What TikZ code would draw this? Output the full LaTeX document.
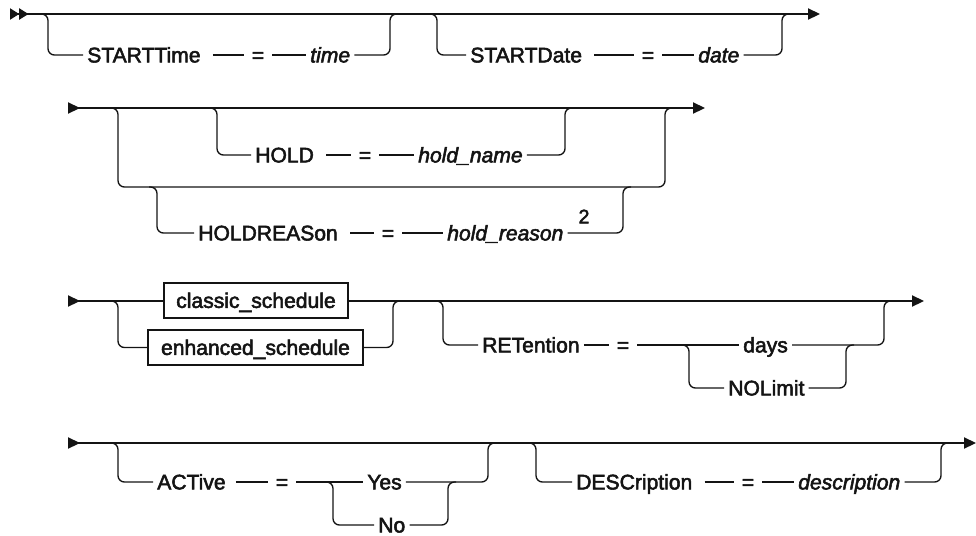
\documentclass[tikz,border=0pt]{standalone}
\usepackage{fontspec}
\setmainfont{Liberation Sans}
\newfontfamily\railfont{Liberation Sans}[BoldFont=Liberation Sans,
  BoldFeatures={FakeBold=2.5},BoldItalicFont=Liberation Sans Italic,
  BoldItalicFeatures={FakeBold=2.5}]
\usetikzlibrary{arrows.meta,positioning}
\definecolor{ink}{RGB}{20,20,20}
\tikzset{
  rail/.style={draw=ink,line width=0.95pt,rounded corners=0.16cm},
  mainline/.style={rail,{Triangle[reversed,length=0.3cm,width=0.28cm]}-{Triangle[length=0.3cm,width=0.28cm]}},
  kw/.style={inner sep=0.1cm,text height=10.5pt,text depth=0pt,
    font=\railfont\bfseries\fontsize{15}{17}\selectfont,text=ink},
  var/.style={kw,font=\railfont\bfseries\itshape\fontsize{15}{17}\selectfont},
  eqs/.style={kw,inner xsep=0.2cm},
  frag/.style={kw,draw=ink,fill=white,line width=0.95pt,
    minimum height=0.875cm,minimum width=#1},
  note/.style={kw,font=\railfont\bfseries\fontsize{14}{16}\selectfont},
}

\begin{document}
\begin{tikzpicture}[x=0.025cm,y=-0.025cm]
  \useasboundingbox (0,0) rectangle (976,535);
  % main lines
  \coordinate (s1) at (10,14);
  \coordinate (e1) at (820,14);
  \draw[rail,{Triangle[reversed,length=0.23cm,width=0.28cm]Triangle[reversed,length=0.23cm,width=0.28cm]}-{Triangle[length=0.3cm,width=0.28cm]}] (s1) -- (e1);
  \foreach \n/\y/\e in {2/108/705,3/301/924,4/443/976}{
    \coordinate (s\n) at (68,\y);
    \coordinate (e\n) at (\e,\y);
    \draw[mainline] (s\n) -- (e\n);
  }

  % row 1: STARTTime, STARTDate
  \coordinate (tb1) at (48,14);  \coordinate (tb2) at (390,14);
  \coordinate (db1) at (437,14); \coordinate (db2) at (782,14);
  \node[kw,anchor=west] (sttime) at (83,55) {STARTTime};
  \node[eqs] (eq1) at (258,55) {=};
  \node[var,anchor=west] (time) at (306,55) {time};
  \node[kw,anchor=west] (stdate) at (466,55) {STARTDate};
  \node[eqs] (eq2) at (648,55) {=};
  \node[var,anchor=west] (date) at (694,55) {date};
  \draw[rail] (tb1) ++(-8,0) -- (tb1) |- (sttime.west);
  \draw[rail] ([xshift=0.2cm]sttime.east) -- (eq1.west) (eq1.east) -- (time.west);
  \draw[rail] (time.east) -| (tb2) -- ++(8,0);
  \draw[rail] (db1) ++(-8,0) -- (db1) |- (stdate.west);
  \draw[rail] ([xshift=0.2cm]stdate.east) -- (eq2.west) (eq2.east) -- (date.west);
  \draw[rail] (date.east) -| (db2) -- ++(8,0);

  % row 2: HOLD, HOLDREASon
  \coordinate (ob1) at (118,108); \coordinate (ob2) at (665,108);
  \coordinate (ld1) at (118,187); \coordinate (ld2) at (665,187);
  \draw[rail] (ob1) ++(-8,0) -- (ob1) -- (ld1) -- (ld2) -- (ob2) -- ++(8,0);
  \coordinate (hb1) at (217,108); \coordinate (hb2) at (565,108);
  \node[kw,anchor=west] (hold) at (251,155) {HOLD};
  \node[eqs] (eq3) at (365,155) {=};
  \node[var,anchor=west] (hname) at (414,155) {hold\_name};
  \draw[rail] (hb1) ++(-8,0) -- (hb1) |- (hold.west);
  \draw[rail] ([xshift=0.2cm]hold.east) -- (eq3.west) (eq3.east) -- (hname.west);
  \draw[rail] (hname.east) -| (hb2) -- ++(8,0);
  \coordinate (rb1) at (157,187); \coordinate (rb2) at (623,187);
  \node[kw,anchor=west] (hreas) at (194,233) {HOLDREASon};
  \node[eqs] (eq4) at (388,233) {=};
  \node[var,anchor=west] (hreason) at (443,233) {hold\_reason};
  \node[note] (fn2) at (584,216) {2};
  \draw[rail] (rb1) ++(-8,0) -- (rb1) |- (hreas.west);
  \draw[rail] ([xshift=0.2cm]hreas.east) -- (eq4.west) (eq4.east) -- (hreason.west);
  \draw[rail] (hreason.east) -| (rb2) -- ++(8,0);

  % row 3: schedule fragments, RETention
  \node[frag=4.6cm] (classic) at (256,300.5) {classic\_schedule};
  \node[frag=5.375cm] (enh) at (255.5,347.5) {enhanced\_schedule};
  \coordinate (cb1) at (118,301); \coordinate (cb2) at (393,301);
  \draw[rail] (cb1) ++(-8,0) -- (cb1) |- (enh.west);
  \draw[rail] (enh.east) -| (cb2) -- ++(8,0);
  \coordinate (pb1) at (443,301); \coordinate (pb2) at (884,301);
  \coordinate (kb1) at (689,345); \coordinate (kb2) at (846,345);
  \node[kw,anchor=west] (ret) at (478,345) {RETention};
  \node[eqs] (eq5) at (623,345) {=};
  \node[kw,anchor=west] (days) at (739,345) {days};
  \node[kw,anchor=west] (nolim) at (724,388) {NOLimit};
  \draw[rail] (pb1) ++(-8,0) -- (pb1) |- (ret.west);
  \draw[rail] (ret.east) -- (eq5.west) (eq5.east) -- (days.west);
  \draw[rail] (days.east) -| (pb2) -- ++(8,0);
  \draw[rail] (kb1) ++(-8,0) -- (kb1) |- (nolim.west);
  \draw[rail] (nolim.east) -| (kb2) -- ++(8,0);

  % row 4: ACTive, DESCription
  \coordinate (ab1) at (118,443); \coordinate (ab2) at (488,443);
  \coordinate (yb1) at (333,482); \coordinate (yb2) at (448,482);
  \node[kw,anchor=west] (act) at (153,482) {ACTive};
  \node[eqs] (eq6) at (282,482) {=};
  \node[kw,anchor=west] (yes) at (363,482) {Yes};
  \node[kw,anchor=west] (no) at (374,525) {No};
  \draw[rail] (ab1) ++(-8,0) -- (ab1) |- (act.west);
  \draw[rail] ([xshift=0.15cm]act.east) -- (eq6.west) (eq6.east) -- (yes.west);
  \draw[rail] (yes.east) -| (ab2) -- ++(8,0);
  \draw[rail] (yb1) ++(-8,0) -- (yb1) |- (no.west);
  \draw[rail] (no.east) -| (yb2) -- ++(8,0);
  \coordinate (xb1) at (536,443); \coordinate (xb2) at (941,443);
  \node[kw,anchor=west] (desc) at (572,482) {DESCription};
  \node[eqs] (eq7) at (748,482) {=};
  \node[var,anchor=west] (descv) at (794,482) {description};
  \draw[rail] (xb1) ++(-8,0) -- (xb1) |- (desc.west);
  \draw[rail] ([xshift=0.2cm]desc.east) -- (eq7.west) (eq7.east) -- (descv.west);
  \draw[rail] (descv.east) -| (xb2) -- ++(8,0);
\end{tikzpicture}
\end{document}
